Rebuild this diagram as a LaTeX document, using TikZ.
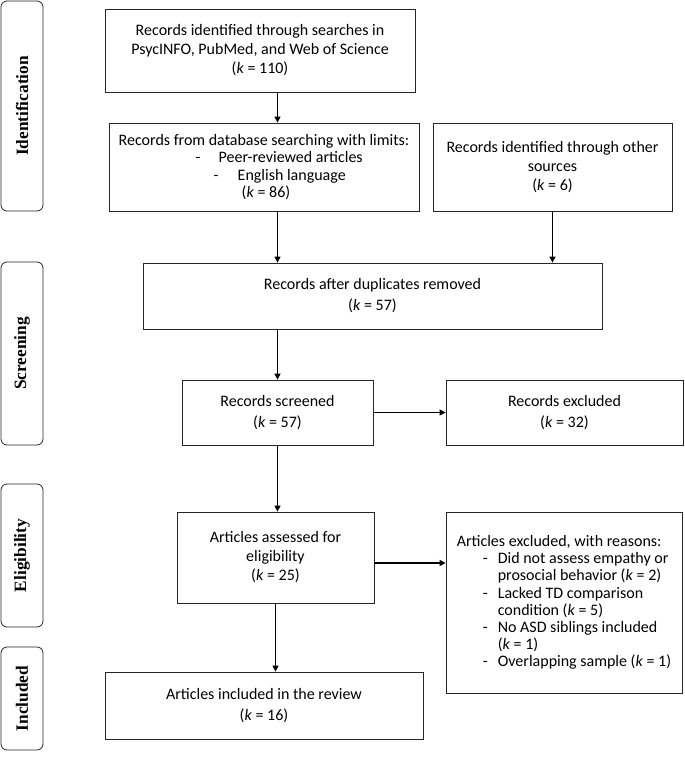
\documentclass[tikz,border=0pt]{standalone}
\usepackage{fontspec}
\setmainfont{Carlito}
\newfontfamily\stagefont{Liberation Serif}
\usetikzlibrary{arrows.meta}
\newcommand{\kval}[1]{(\textit{k} = #1)}
\newcommand{\grund}[1]{\hspace*{26pt}\makebox[15pt][l]{-}#1}
\newcommand{\weiter}[1]{\hspace*{41pt}#1}

\begin{document}
\begin{tikzpicture}[x=1pt,y=-1pt]
		\tikzset{kasten/.style={rectangle, draw=black!85, line width=0.8pt, align=center, inner sep=0pt, font=\fontsize{16}{19}\selectfont},
			weit/.style={font=\fontsize{16}{21}\selectfont},
			eng/.style={font=\fontsize{16}{17.2}\selectfont},
			phase/.style={rectangle, rounded corners=6pt, draw=black!85, line width=0.8pt, rotate=90, minimum height=42pt, font=\stagefont\bfseries\fontsize{17.3}{18}\selectfont},
			pfeil/.style={line width=1.3pt, -{Triangle[length=6pt,width=6pt]}}}
		\useasboundingbox (0,0) rectangle (685,760);

		% Phases
		\node[phase, minimum width=210pt] at (22, 106) (ident) {Identification};
		\node[phase, minimum width=183pt] at (22, 353.5) (screen) {Screening};
		\node[phase, minimum width=143pt] at (22, 555.5) (elig) {Eligibility};
		\node[phase, minimum width=103pt] at (22, 698.5) (incl) {Included};

		% Boxes
		\node[kasten, minimum width=310pt, minimum height=83pt] at (260, 50.5) (b1) {Records identified through searches in\\PsycINFO, PubMed, and Web of Science\\\kval{110}};
		\node[kasten, eng, minimum width=310pt, minimum height=88pt, align=left] at (264, 167) (b2) {Records from database searching with limits:\\
			\hspace*{77pt}\makebox[23pt][l]{-}Peer-reviewed articles\\
			\hspace*{95pt}\makebox[24pt][l]{-}English language\\
			\hspace*{123pt}\kval{86}};
		\node[kasten, minimum width=239pt, minimum height=88pt] at (552.5, 167) (b3) {Records identified through other\\sources\\\kval{6}};
		\node[kasten, weit, minimum width=459pt, minimum height=66pt] at (372.5, 296) (b4) {Records after duplicates removed\\\kval{57}};
		\node[kasten, weit, minimum width=191pt, minimum height=65pt] at (277.5, 412.5) (b5) {Records screened\\\kval{57}};
		\node[kasten, weit, minimum width=237pt, minimum height=65pt] at (564.5, 412.5) (b6) {Records excluded\\\kval{32}};
		\node[kasten, minimum width=197pt, minimum height=91pt] at (275.5, 557.5) (b7) {Articles assessed for\\eligibility\\\kval{25}};
		\node[kasten, eng, minimum width=236pt, minimum height=181pt, align=left] at (564, 602.5) (b8) {Articles excluded, with reasons:\\
			\grund{Did not assess empathy or}\\
			\weiter{prosocial behavior \kval{2}}\\
			\grund{Lacked TD comparison}\\
			\weiter{condition \kval{5}}\\
			\grund{No ASD siblings included}\\
			\weiter{\kval{1}}\\
			\grund{Overlapping sample \kval{1}}};
		\node[kasten, weit, minimum width=318pt, minimum height=67pt] at (264, 705.5) (b9) {Articles included in the review\\\kval{16}};

		% Arrows
		\draw[pfeil] (b1.south -| b5) -- (b2.north -| b5);
		\draw[pfeil] (b2.south -| b5) -- (b4.north -| b5);
		\draw[pfeil] (b3.south) -- (b3.south |- b4.north);
		\draw[pfeil] (b4.south -| b5) -- (b5.north);
		\draw[pfeil] (b5.east) -- (b6.west);
		\draw[pfeil] (b5.south) -- (b5.south |- b7.north);
		\draw[pfeil] ([yshift=-5.5pt]b7.east) -- ([yshift=-5.5pt]b7.east -| b8.west);
		\draw[pfeil] (b7.south) -- (b7.south |- b9.north);
\end{tikzpicture}
\end{document}
